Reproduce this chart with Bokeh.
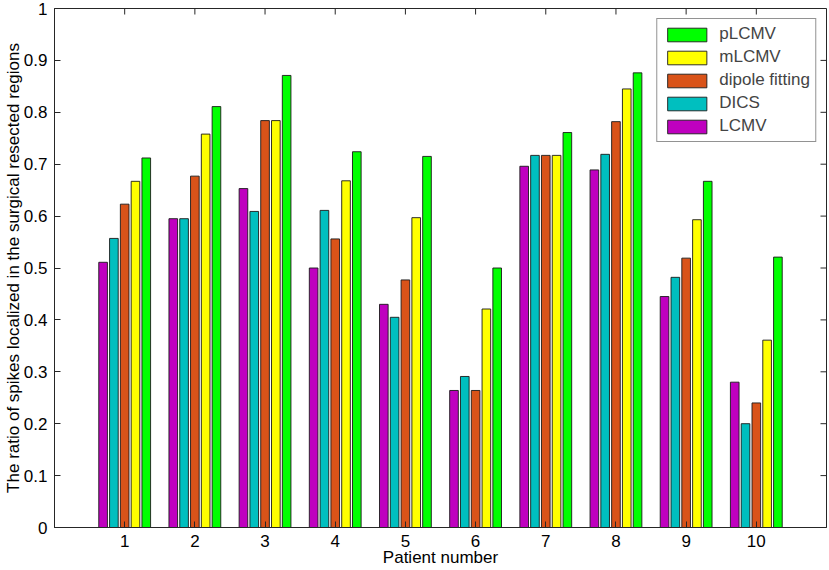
import math
from bokeh.plotting import figure
from bokeh.models import ColumnDataSource, Range1d, FixedTicker, Legend, LegendItem
from bokeh.transform import dodge
from bokeh.embed import file_html
from bokeh.resources import INLINE

# ---- data ----
patients = [1, 2, 3, 4, 5, 6, 7, 8, 9, 10]
LCMV = [0.511, 0.595, 0.653, 0.500, 0.430, 0.264, 0.696, 0.689, 0.445, 0.280]
DICS = [0.557, 0.595, 0.609, 0.611, 0.405, 0.291, 0.717, 0.719, 0.482, 0.200]
dipole_fitting = [0.623, 0.677, 0.784, 0.556, 0.477, 0.264, 0.717, 0.782, 0.519, 0.240]
mLCMV = [0.667, 0.758, 0.784, 0.668, 0.597, 0.421, 0.717, 0.845, 0.593, 0.361]
pLCMV = [0.712, 0.811, 0.871, 0.724, 0.715, 0.500, 0.761, 0.876, 0.667, 0.521]
series_names = ["LCMV", "DICS", "dipole fitting", "mLCMV", "pLCMV"]
y_ticks = [0, 0.1, 0.2, 0.3, 0.4, 0.5, 0.6, 0.7, 0.8, 0.9, 1]
y_tick_labels = ["0", "0.1", "0.2", "0.3", "0.4", "0.5", "0.6", "0.7", "0.8", "0.9", "1"]

colors = ["#BF00BF", "#00BFBF", "#D95319", "#FFFF00", "#00FF00"]
FONT = "Liberation Sans"
FS = "17px"
AX = "#262626"

src = ColumnDataSource(dict(x=patients, LCMV=LCMV, DICS=DICS, dipole=dipole_fitting,
                            mLCMV=mLCMV, pLCMV=pLCMV))
cols = ["LCMV", "DICS", "dipole", "mLCMV", "pLCMV"]

xr = Range1d(0, 11)
yr = Range1d(0, 1)
p = figure(width=829, height=570, output_backend="svg", toolbar_location=None,
           x_range=xr, y_range=yr,
           min_border_left=53, min_border_right=3, min_border_top=8, min_border_bottom=43)
p.grid.visible = False
p.outline_line_color = AX
p.outline_line_width = 1

step = 0.769 / 5
width = 0.8 * step
renderers = []
for i, (c, col) in enumerate(zip(cols, colors)):
    r = p.vbar(x=dodge("x", (i - 2) * step, range=p.x_range), top=c, width=width,
               source=src, fill_color=col, line_color="#1a1a1a", line_width=0.9)
    renderers.append(r)

# inward ticks on the top and right edges (box style)
p.ray(x=patients, y=[yr.end] * len(patients), length=6, length_units="screen",
      angle=-math.pi / 2, line_color=AX, line_width=1)
p.ray(x=[xr.end] * len(y_ticks), y=y_ticks, length=6, length_units="screen",
      angle=math.pi, line_color=AX, line_width=1)

def style_axis(ax):
    ax.axis_line_color = AX
    ax.major_tick_line_color = AX
    ax.major_tick_in = 6
    ax.major_tick_out = 0
    ax.minor_tick_line_color = None
    ax.major_label_text_font = FONT
    ax.major_label_text_font_size = FS
    ax.major_label_text_color = "black"
    ax.axis_label_text_font = FONT
    ax.axis_label_text_font_size = FS
    ax.axis_label_text_font_style = "normal"
    ax.axis_label_text_color = "black"

xa = p.xaxis[0]
xa.ticker = FixedTicker(ticks=patients)
xa.axis_label = "Patient number"
style_axis(xa)
xa.major_label_standoff = 7
xa.axis_label_standoff = -2

ya = p.yaxis[0]
ya.ticker = FixedTicker(ticks=y_ticks)
ya.major_label_overrides = {t: l for t, l in zip(y_ticks, y_tick_labels)}
ya.axis_label = "The ratio of spikes localized in the surgical resected regions"
style_axis(ya)
ya.major_label_standoff = 7
ya.axis_label_standoff = -2

items = [LegendItem(label=series_names[i], renderers=[renderers[i]]) for i in [4, 3, 2, 1, 0]]
legend = Legend(items=items, location="top_right", margin=10, padding=5, spacing=3,
                glyph_width=49, glyph_height=17, label_height=17, label_standoff=8,
                label_text_font=FONT, label_text_font_size="17px",
                border_line_color=AX, border_line_width=1,
                background_fill_color="white", background_fill_alpha=1)
p.add_layout(legend, "center")

open("out.html", "w").write(file_html(p, INLINE))
